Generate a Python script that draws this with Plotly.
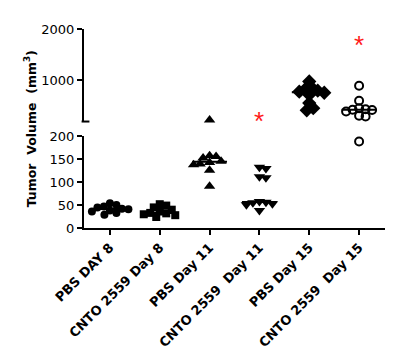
import numpy as np
import plotly.graph_objects as go

categories = ["PBS DAY 8", "CNTO 2559 Day 8", "PBS Day 11",
              "CNTO 2559  Day 11", "PBS Day 15", "CNTO 2559  Day 15"]

pbs_day8 = [54, 50, 47, 45, 42, 41, 38, 36, 33, 29]
cnto_day8 = [52, 49, 45, 40, 36, 33, 32, 30, 28, 24, -3]
pbs_day11 = [231, 158, 156, 153, 146, 143, 140, 138, 126, 91]
cnto_day11 = [133, 130, 112, 110, 58, 56, 55, 53, 51, 38]
pbs_day15 = [980, 860, 830, 800, 780, 760, 720, 560, 460, 420]
cnto_day15 = [896, 603, 460, 440, 430, 425, 395, 311, 297, 189]

groups = [pbs_day8, cnto_day8, pbs_day11, cnto_day11, pbs_day15, cnto_day15]
symbols = ["circle", "square", "triangle-up", "triangle-down", "diamond", "circle-open"]

star_groups = [3, 5]
star_values = [311, 1779]

lower_ticks = [0, 50, 100, 150, 200]
upper_ticks = [1000, 2000]

BREAK = 200
LOW_RANGE = [0, 200]
UP_RANGE = [200, 2000]

FONT = "DejaVu Sans, Liberation Sans, Arial"

# layout geometry (px)
W, H = 394, 355
ML, MR, MT, MB = 84, 9, 29, 127
plot_h = H - MT - MB
low_dom = [0, 0.46]
up_dom = [0.535, 1]
X_RANGE = [-0.52, 5.52]
px_per_cat = (W - ML - MR) / (X_RANGE[1] - X_RANGE[0])


def ypix(v):
    if v < BREAK:
        return plot_h * low_dom[0] + (v - LOW_RANGE[0]) / (LOW_RANGE[1] - LOW_RANGE[0]) * plot_h * (low_dom[1] - low_dom[0])
    return plot_h * up_dom[0] + (v - UP_RANGE[0]) / (UP_RANGE[1] - UP_RANGE[0]) * plot_h * (up_dom[1] - up_dom[0])


def beeswarm(vals, diam=6.5, step=0.5):
    order = np.argsort(vals)[::-1]
    placed = []
    offs = np.zeros(len(vals))
    for idx in order:
        y = ypix(vals[idx])
        k = 0
        while True:
            cands = [0.0] if k == 0 else [k * step, -k * step]
            ok = None
            for c in cands:
                if all((c - px) ** 2 + (y - py) ** 2 >= diam ** 2 for px, py in placed):
                    ok = c
                    break
            if ok is not None:
                break
            k += 1
        placed.append((ok, y))
        offs[idx] = ok / px_per_cat
    return offs


fig = go.Figure()
for i, vals in enumerate(groups):
    vals = np.array(vals, dtype=float)
    offs = beeswarm(list(vals))
    xs = i + offs
    lo = vals < BREAK
    common = dict(mode="markers", showlegend=False, cliponaxis=False, hoverinfo="skip",
                  marker=dict(symbol=symbols[i], color="black",
                              size={2: 10, 3: 10, 4: 11}.get(i, 8),
                              line=dict(color="black", width=2 if i == 5 else 0)))
    fig.add_trace(go.Scatter(x=xs[lo], y=vals[lo], xaxis="x", yaxis="y", **common))
    fig.add_trace(go.Scatter(x=xs[~lo], y=vals[~lo], xaxis="x2", yaxis="y2", **common))
    med = float(np.median(vals))
    fig.add_trace(go.Scatter(x=[i - 0.35, i + 0.35], y=[med, med], mode="lines",
                             line=dict(color="black", width=2), showlegend=False, hoverinfo="skip",
                             xaxis="x" if med < BREAK else "x2",
                             yaxis="y" if med < BREAK else "y2", cliponaxis=False))

for g, v in zip(star_groups, star_values):
    fig.add_annotation(x=g, y=v, xref="x2", yref="y2", text="*", showarrow=False,
                       font=dict(color="#ff1a1a", size=26, family="Liberation Sans, Arial"),
                       yanchor="middle", yshift=-5)

fig.add_annotation(x=-0.18, y=0.5, xref="paper", yref="paper", xanchor="center", yanchor="middle",
                   text="<b>Tumor  Volume  (mm<sup>3</sup>)</b>",
                   textangle=-90, showarrow=False, font=dict(size=12.5, color="black", family=FONT))

# small end mark on upper axis
fig.add_shape(type="line", xref="paper", yref="paper", x0=-0.008, x1=0.018,
              y0=up_dom[0], y1=up_dom[0], line=dict(color="black", width=2))

axis_common = dict(showgrid=False, zeroline=False, showline=True, linecolor="black", linewidth=2,
                   ticks="outside", ticklen=5, tickwidth=2, tickcolor="black", automargin=False)

fig.update_layout(
    width=W, height=H, margin=dict(l=ML, r=MR, t=MT, b=MB),
    paper_bgcolor="white", plot_bgcolor="white",
    font=dict(family=FONT, color="black", size=13),
    xaxis=dict(range=X_RANGE, tickmode="array", tickvals=list(range(len(categories))),
               ticktext=[f"<b>{c}</b>" for c in categories], tickangle=-45,
               anchor="y", tickfont=dict(size=13), **axis_common),
    xaxis2=dict(range=X_RANGE, matches="x", anchor="y2", visible=False),
    yaxis=dict(domain=low_dom, range=LOW_RANGE, tickvals=lower_ticks, anchor="x",
               tickfont=dict(size=13), **axis_common),
    yaxis2=dict(domain=up_dom, range=UP_RANGE, tickvals=upper_ticks, anchor="x2",
                tickfont=dict(size=13), **axis_common),
)

fig.write_html("out.html", config={"displayModeBar": False},
               post_script="document.body.style.margin='0';document.body.style.overflow='hidden';")
